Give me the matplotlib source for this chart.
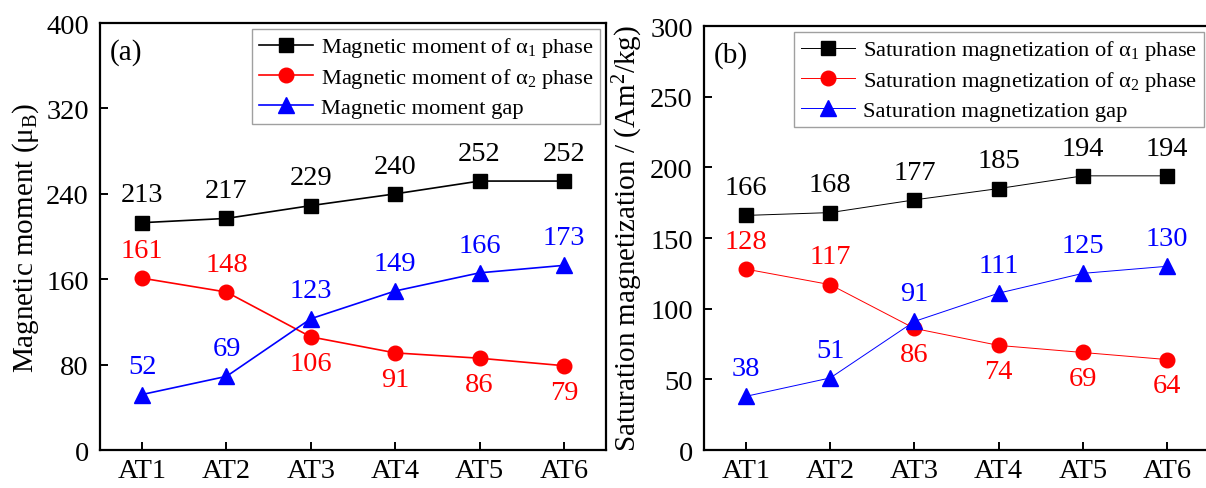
import matplotlib
matplotlib.use("Agg")
import matplotlib.pyplot as plt

# ---------------------------------------------------------------------------
# Data
# ---------------------------------------------------------------------------
samples = ["AT1", "AT2", "AT3", "AT4", "AT5", "AT6"]

moment_a1 = [213, 217, 229, 240, 252, 252]
moment_a2 = [161, 148, 106, 91, 86, 79]
moment_gap = [52, 69, 123, 149, 166, 173]

ms_a1 = [166, 168, 177, 185, 194, 194]
ms_a2 = [128, 117, 86, 74, 69, 64]
ms_gap = [38, 51, 91, 111, 125, 130]

# red labels sit above the point for the first two samples, below afterwards
red_above = [True, True, False, False, False, False]

plt.rcParams["font.family"] = ["Liberation Serif", "DejaVu Serif"]
plt.rcParams["mathtext.fontset"] = "custom"
plt.rcParams["mathtext.rm"] = "Liberation Serif"
plt.rcParams["mathtext.it"] = "Liberation Serif:italic"
plt.rcParams["mathtext.default"] = "regular"

FS = 20.5      # ticks and value labels
FS_LAB = 21    # axis titles
FS_LEG = 16.2

fig = plt.figure(figsize=(12.06, 4.89), dpi=100)
ax1 = fig.add_axes([0.0829, 0.0777, 0.4196, 0.873])
ax2 = fig.add_axes([0.5837, 0.0777, 0.4190, 0.867])


def draw_panel(ax, s1, s2, sg, names, ylim, yticks, ylabel, tag, lw):
    x = list(range(len(samples)))
    ax.plot(x, s1, "-s", color="black", lw=lw, ms=9.4, label=names[0])
    ax.plot(x, s2, "-o", color="red", lw=lw, ms=10.5, label=names[1])
    ax.plot(x, sg, "-^", color="blue", lw=lw, ms=11, label=names[2])

    for i in x:
        ax.annotate(str(s1[i]), (i, s1[i]), xytext=(0, 11), textcoords="offset points",
                    ha="center", va="bottom", fontsize=FS, color="black")
        ax.annotate(str(sg[i]), (i, sg[i]), xytext=(0, 11), textcoords="offset points",
                    ha="center", va="bottom", fontsize=FS, color="blue")
        if red_above[i]:
            ax.annotate(str(s2[i]), (i, s2[i]), xytext=(0, 11), textcoords="offset points",
                        ha="center", va="bottom", fontsize=FS, color="red")
        else:
            ax.annotate(str(s2[i]), (i, s2[i]), xytext=(0, -10), textcoords="offset points",
                        ha="center", va="top", fontsize=FS, color="red")

    ax.set_xlim(-0.5, len(samples) - 0.5)
    ax.set_ylim(*ylim)
    ax.set_xticks(x)
    ax.set_xticklabels(samples)
    ax.set_yticks(yticks)
    ax.tick_params(axis="x", direction="in", length=5.5, width=1.4, labelsize=FS, pad=6)
    ax.tick_params(axis="y", direction="in", length=5.5, width=1.4, labelsize=FS, pad=8)
    for sp in ax.spines.values():
        sp.set_linewidth(1.6)
    ax.set_ylabel(ylabel, fontsize=FS_LAB, labelpad=4)
    ax.text(0.02, 0.965, tag, transform=ax.transAxes, fontsize=21, va="top", ha="left")

    leg = ax.legend(loc="upper right", fontsize=FS_LEG, frameon=True, fancybox=False,
                    edgecolor="#888888", handlelength=2.4, handletextpad=0.35,
                    borderaxespad=0.25, labelspacing=0.3, borderpad=0.3)
    leg.get_frame().set_linewidth(1.0)


draw_panel(ax1, moment_a1, moment_a2, moment_gap,
           [r"Magnetic moment of $\alpha_1$ phase",
            r"Magnetic moment of $\alpha_2$ phase",
            "Magnetic moment gap"],
           (0, 400), [0, 80, 160, 240, 320, 400],
           r"Magnetic moment ($\mu_B$)", "(a)", 1.2)

draw_panel(ax2, ms_a1, ms_a2, ms_gap,
           [r"Saturation magnetization of $\alpha_1$ phase",
            r"Saturation magnetization of $\alpha_2$ phase",
            "Saturation magnetization gap"],
           (0, 300), [0, 50, 100, 150, 200, 250, 300],
           r"Saturation magnetization / (Am$^2$/kg)", "(b)", 0.7)

# the right frame of panel (b) falls off the edge of the picture
ax2.spines["right"].set_visible(False)

fig.savefig("out.png", dpi=100)
